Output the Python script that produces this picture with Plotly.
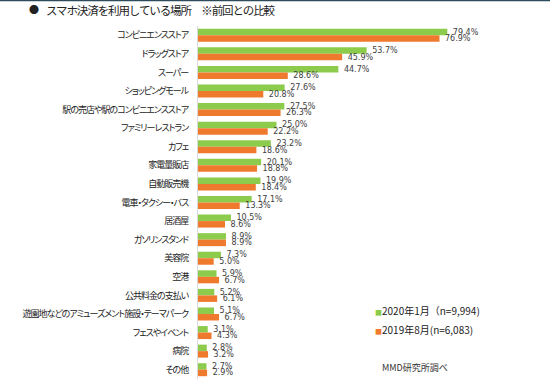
import plotly.graph_objects as go

categories = ["コンビニエンスストア", "ドラッグストア", "スーパー", "ショッピングモール",
              "駅の売店や駅のコンビニエンスストア", "ファミリーレストラン", "カフェ", "家電量販店",
              "自動販売機", "電車・タクシー・バス", "居酒屋", "ガソリンスタンド", "美容院", "空港",
              "公共料金の支払い", "遊園地などのアミューズメント施設・テーマパーク", "フェスやイベント",
              "病院", "その他"]
v2020 = [79.4, 53.7, 44.7, 27.6, 27.5, 25.0, 23.2, 20.1, 19.9, 17.1, 10.5, 8.9, 7.3, 5.9, 5.2, 5.1, 3.1, 2.8, 2.7]
v2019 = [76.9, 45.9, 28.6, 20.8, 26.3, 22.2, 18.6, 18.8, 18.4, 13.3, 8.6, 8.9, 5.0, 6.7, 6.1, 6.7, 4.3, 3.2, 2.9]
name2020 = "2020年1月（n=9,994)"
name2019 = "2019年8月(n=6,083)"

W, H = 550, 383
L, T, B = 198, 26.2, 3.7
XMAX = 100
R = W - (L + XMAX * 3.136)
PW, PH = W - L - R, H - T - B

def px2x(px):
    return (px - L) / PW

def py2y(py):
    return 1 - (py - T) / PH

GREEN = "#8CCB4B"
ORANGE = "#EF7A2E"
JP = "Noto Sans CJK JP"

fig = go.Figure()
fig.add_trace(go.Bar(y=categories, x=v2020, orientation="h", name=name2020,
                     marker=dict(color=GREEN, line=dict(width=0)),
                     texttemplate="\u00a0%{x:.1f}%", textposition="outside",
                     constraintext="none", cliponaxis=False,
                     textfont=dict(family="DejaVu Sans", size=8, color="#404040")))
fig.add_trace(go.Bar(y=categories, x=v2019, orientation="h", name=name2019,
                     marker=dict(color=ORANGE, line=dict(width=0)),
                     texttemplate="\u00a0%{x:.1f}%", textposition="outside",
                     constraintext="none", cliponaxis=False,
                     textfont=dict(family="DejaVu Sans", size=8, color="#404040")))

annotations = [
    dict(x=px2x(27), y=py2y(10), xref="paper", yref="paper", xanchor="left", yanchor="middle",
         text="●", showarrow=False, font=dict(family=JP, size=10, color="#222")),
    dict(x=px2x(44), y=py2y(10), xref="paper", yref="paper", xanchor="left", yanchor="middle",
         text="<span style='letter-spacing:-1.1px'>スマホ決済を利用している場所　※前回との比較</span>",
         showarrow=False, font=dict(family=JP, size=11.5, color="#222")),
    dict(x=px2x(373), y=py2y(311), xref="paper", yref="paper", xanchor="left", yanchor="middle",
         text=f"<span style='color:{GREEN};font-size:7px'>■</span>{name2020}", showarrow=False,
         font=dict(family=JP, size=10, color="#222")),
    dict(x=px2x(373), y=py2y(330), xref="paper", yref="paper", xanchor="left", yanchor="middle",
         text=f"<span style='color:{ORANGE};font-size:7px'>■</span>{name2019}", showarrow=False,
         font=dict(family=JP, size=10, color="#222")),
    dict(x=px2x(380), y=py2y(368), xref="paper", yref="paper", xanchor="left", yanchor="middle",
         text="MMD研究所調べ", showarrow=False,
         font=dict(family=JP, size=9, color="#333")),
]

shapes = [dict(type="line", xref="paper", yref="paper", x0=px2x(0), x1=px2x(W),
               y0=py2y(0.7), y1=py2y(0.7), line=dict(color="#2E4B5C", width=1.5))]

fig.update_layout(
    width=W, height=H,
    margin=dict(l=L, r=R, t=T, b=B, autoexpand=False),
    paper_bgcolor="white", plot_bgcolor="white",
    barmode="group", bargap=0.3, bargroupgap=0,
    showlegend=False,
    xaxis=dict(range=[0, XMAX], visible=False, fixedrange=True),
    yaxis=dict(autorange="reversed", showline=True, linecolor="#D9D9D9", linewidth=1,
               ticks="", showgrid=False, ticklabelstandoff=7, fixedrange=True,
               tickfont=dict(family=JP, size=9, color="#222")),
    annotations=annotations, shapes=shapes,
)

post = """
document.body.style.margin = '0';
document.body.style.padding = '0';
var st = document.createElement('style');
st.textContent = '.ytick text { font-feature-settings: "palt" 1; letter-spacing: -1.0px; }';
document.head.appendChild(st);
"""

fig.write_html("out.html", post_script=post, config={"displayModeBar": False})
